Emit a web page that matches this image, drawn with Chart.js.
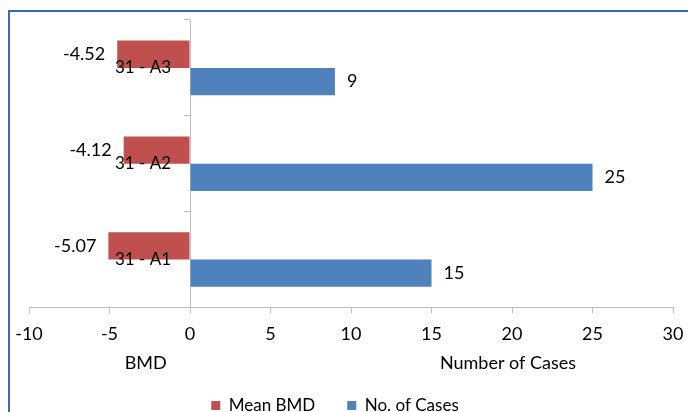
<!DOCTYPE html>
<html>
<head>
<meta charset="utf-8">
<script src="https://cdn.jsdelivr.net/npm/chart.js@4.4.1/dist/chart.umd.min.js"></script>
<style>
  html, body { margin: 0; padding: 0; background: #ffffff; }
  #wrap { position: relative; width: 688px; height: 412px; overflow: hidden; }
  #frame {
    position: absolute; left: 8px; top: 10px; width: 700px; height: 420px;
    border-top: 2px solid #3b67c2; border-left: 2px solid #3b67c2; box-sizing: border-box;
  }
  canvas { position: absolute; left: 0; top: 0; }
</style>
</head>
<body>
<div id="wrap">
  <div id="frame"></div>
  <canvas id="c" width="688" height="412"></canvas>
</div>
<script>
// Categories listed top to bottom
const categories = ['31 - A3', '31 - A2', '31 - A1'];
const meanBmd = [-4.52, -4.12, -5.07];
const caseCounts = [9, 25, 15];
const seriesNames = ['Mean BMD', 'No. of Cases'];
const xTicks = [-10, -5, 0, 5, 10, 15, 20, 25, 30];
const axisTitles = ['BMD', 'Number of Cases'];

const FONT = 'Lato, "Open Sans", sans-serif';
const FONT_SIZE = 18;
const AXIS_GREY = '#bfbfbf';

Chart.defaults.font.family = FONT;
Chart.defaults.font.size = FONT_SIZE;
Chart.defaults.color = '#000000';

// Value text at the outer end of each bar, and category names beside the zero line
const barText = {
  id: 'barText',
  afterDatasetsDraw(chart) {
    const ctx = chart.ctx;
    const xs = chart.scales.x;
    const ys = chart.scales.y;
    ctx.save();
    ctx.font = FONT_SIZE + 'px ' + FONT;
    ctx.fillStyle = '#000000';
    ctx.textBaseline = 'middle';
    chart.data.datasets.forEach((ds, di) => {
      chart.getDatasetMeta(di).data.forEach((bar, i) => {
        const v = ds.data[i];
        const neg = v < 0;
        ctx.textAlign = neg ? 'right' : 'left';
        ctx.fillText(String(v), bar.x + (neg ? -12 : 12), bar.y);
      });
    });
    ctx.font = '17px ' + FONT;
    ctx.textAlign = 'right';
    const zero = xs.getPixelForValue(0);
    chart.data.labels.forEach((name, i) => {
      ctx.fillText(name, zero - 19, ys.getPixelForValue(i));
    });
    ctx.restore();
  }
};

// Titles for the two halves of the value axis
const halfTitles = {
  id: 'halfTitles',
  afterDraw(chart) {
    const ctx = chart.ctx;
    const xs = chart.scales.x;
    const centres = [-2.75, 19.75];
    ctx.save();
    ctx.font = FONT_SIZE + 'px ' + FONT;
    ctx.fillStyle = '#000000';
    ctx.textAlign = 'center';
    ctx.textBaseline = 'middle';
    axisTitles.forEach((t, i) => {
      ctx.fillText(t, xs.getPixelForValue(centres[i]), chart.chartArea.bottom + 56);
    });
    ctx.restore();
  }
};

// Legend sits a little left of centre, near the bottom edge
const legendPlacement = {
  id: 'legendPlacement',
  afterLayout(chart) {
    const lg = chart.legend;
    if (!lg) return;
    lg.left -= 16; lg.right -= 16;
    lg.top += 12; lg.bottom += 12;
  }
};

new Chart(document.getElementById('c'), {
  type: 'bar',
  data: {
    labels: categories,
    datasets: [
      { label: seriesNames[0], data: meanBmd, backgroundColor: '#c0504d' },
      { label: seriesNames[1], data: caseCounts, backgroundColor: '#4f81bd' }
    ]
  },
  options: {
    indexAxis: 'y',
    responsive: false,
    animation: false,
    devicePixelRatio: 1,
    categoryPercentage: 0.57,
    barPercentage: 1,
    layout: { padding: { left: 29, right: 15, top: 20, bottom: 0 } },
    scales: {
      x: {
        type: 'linear',
        min: xTicks[0],
        max: xTicks[xTicks.length - 1],
        afterBuildTicks: s => { s.ticks = xTicks.map(v => ({ value: v })); },
        afterFit: s => { s.height = 45.6; s.paddingLeft = 0; s.paddingRight = 0; },
        grid: { drawOnChartArea: false, drawTicks: true, tickLength: 6, color: AXIS_GREY },
        border: { color: AXIS_GREY },
        ticks: { padding: 10, color: '#000000', maxRotation: 0, autoSkip: false }
      },
      y: {
        type: 'category',
        position: { x: 0 },
        grid: { drawOnChartArea: false, drawTicks: true, tickLength: 6, color: AXIS_GREY, offset: true },
        border: { color: AXIS_GREY },
        ticks: { display: false }
      }
    },
    plugins: {
      legend: {
        position: 'bottom',
        labels: { boxWidth: 9, boxHeight: 9, padding: 32, color: '#000000', font: { size: 17 } }
      },
      tooltip: { enabled: false }
    }
  },
  plugins: [barText, halfTitles, legendPlacement]
});
</script>
</body>
</html>
